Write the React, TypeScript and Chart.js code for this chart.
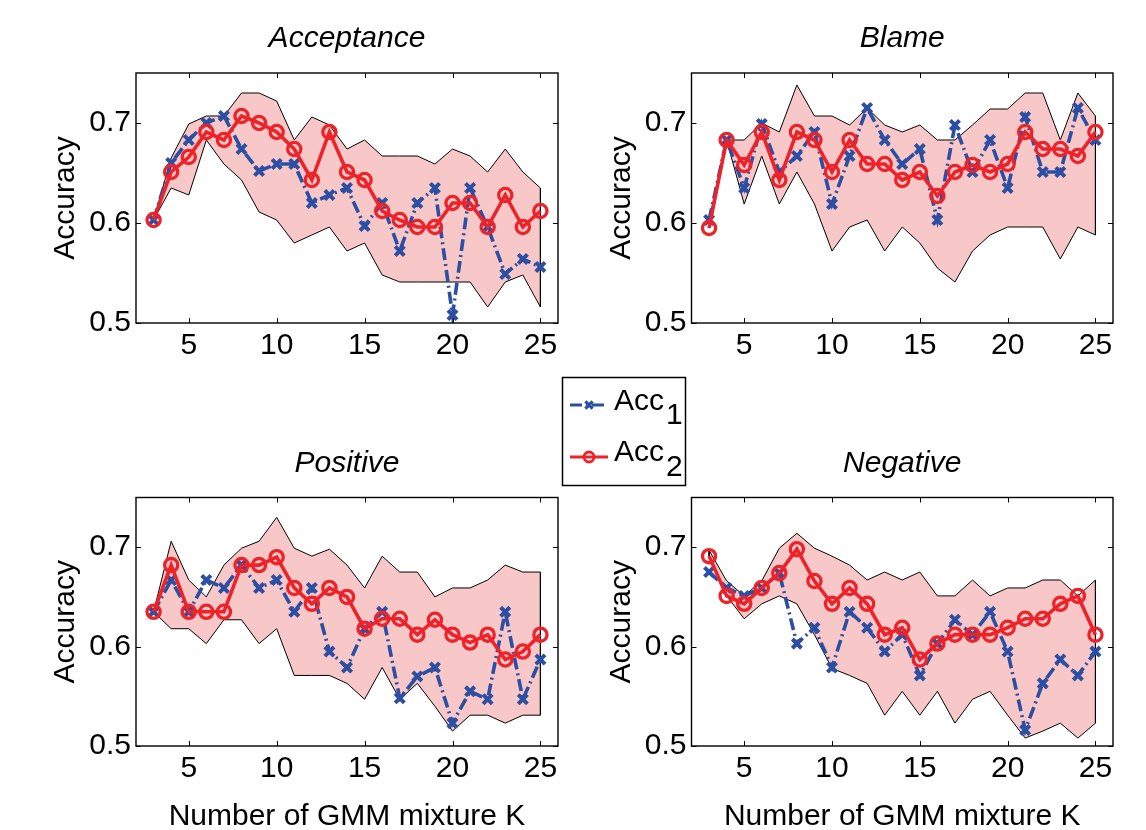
import React, { useEffect, useRef } from 'react';
import { Chart, registerables } from 'chart.js';

Chart.register(...registerables);

// ---------- data ----------
const K = [3, 4, 5, 6, 7, 8, 9, 10, 11, 12, 13, 14, 15, 16, 17, 18, 19, 20, 21, 22, 23, 24, 25];
const X_TICKS = [5, 10, 15, 20, 25];
const Y_TICKS = [0.5, 0.6, 0.7];

const acceptanceAcc2 = [0.603, 0.651, 0.666, 0.691, 0.683, 0.707, 0.700, 0.691, 0.674, 0.643, 0.691, 0.651, 0.643, 0.612, 0.603, 0.596, 0.596, 0.620, 0.620, 0.596, 0.628, 0.596, 0.612];
const acceptanceAcc1 = [0.603, 0.660, 0.683, 0.700, 0.707, 0.674, 0.652, 0.659, 0.659, 0.620, 0.628, 0.635, 0.597, 0.620, 0.572, 0.620, 0.635, 0.508, 0.635, 0.596, 0.549, 0.564, 0.556];
const acceptanceUpper = [0.603, 0.665, 0.699, 0.707, 0.707, 0.730, 0.730, 0.722, 0.683, 0.706, 0.698, 0.674, 0.683, 0.667, 0.667, 0.667, 0.659, 0.674, 0.667, 0.651, 0.674, 0.651, 0.635];
const acceptanceLower = [0.603, 0.635, 0.628, 0.683, 0.659, 0.643, 0.611, 0.603, 0.580, 0.588, 0.596, 0.572, 0.580, 0.548, 0.541, 0.541, 0.541, 0.541, 0.541, 0.516, 0.541, 0.548, 0.516];

const blameAcc2 = [0.595, 0.683, 0.658, 0.691, 0.643, 0.691, 0.683, 0.651, 0.683, 0.659, 0.659, 0.643, 0.651, 0.627, 0.651, 0.658, 0.651, 0.659, 0.691, 0.674, 0.674, 0.667, 0.691];
const blameAcc1 = [0.603, 0.683, 0.635, 0.699, 0.651, 0.667, 0.691, 0.619, 0.667, 0.715, 0.683, 0.659, 0.674, 0.603, 0.698, 0.651, 0.683, 0.635, 0.706, 0.651, 0.651, 0.715, 0.683];
const blameUpper = [0.603, 0.683, 0.683, 0.700, 0.691, 0.738, 0.707, 0.707, 0.698, 0.715, 0.698, 0.691, 0.698, 0.683, 0.683, 0.698, 0.714, 0.714, 0.730, 0.730, 0.683, 0.730, 0.707];
const blameLower = [0.595, 0.683, 0.619, 0.667, 0.619, 0.651, 0.619, 0.572, 0.596, 0.603, 0.572, 0.596, 0.580, 0.555, 0.541, 0.572, 0.588, 0.596, 0.596, 0.596, 0.564, 0.596, 0.588];

const positiveAcc2 = [0.635, 0.682, 0.635, 0.635, 0.635, 0.682, 0.682, 0.690, 0.659, 0.643, 0.659, 0.650, 0.618, 0.628, 0.628, 0.612, 0.627, 0.612, 0.604, 0.612, 0.587, 0.595, 0.612];
const positiveAcc1 = [0.635, 0.667, 0.635, 0.667, 0.659, 0.682, 0.659, 0.667, 0.635, 0.659, 0.595, 0.579, 0.618, 0.635, 0.548, 0.570, 0.579, 0.523, 0.555, 0.547, 0.635, 0.547, 0.587];
const positiveUpper = [0.635, 0.706, 0.667, 0.650, 0.682, 0.699, 0.706, 0.730, 0.699, 0.691, 0.698, 0.682, 0.659, 0.691, 0.675, 0.675, 0.650, 0.659, 0.659, 0.667, 0.682, 0.675, 0.675];
const positiveLower = [0.635, 0.618, 0.618, 0.603, 0.627, 0.627, 0.603, 0.618, 0.571, 0.571, 0.571, 0.563, 0.547, 0.579, 0.547, 0.563, 0.540, 0.515, 0.531, 0.531, 0.523, 0.531, 0.531];

const negativeAcc2 = [0.691, 0.651, 0.643, 0.659, 0.674, 0.698, 0.666, 0.643, 0.659, 0.643, 0.612, 0.619, 0.587, 0.603, 0.612, 0.612, 0.612, 0.619, 0.628, 0.628, 0.643, 0.651, 0.612];
const negativeAcc1 = [0.675, 0.659, 0.651, 0.659, 0.674, 0.603, 0.619, 0.579, 0.635, 0.619, 0.595, 0.612, 0.571, 0.603, 0.627, 0.612, 0.635, 0.595, 0.516, 0.563, 0.587, 0.571, 0.595];
const negativeUpper = [0.697, 0.666, 0.651, 0.666, 0.699, 0.714, 0.699, 0.691, 0.682, 0.667, 0.675, 0.667, 0.675, 0.651, 0.651, 0.667, 0.651, 0.659, 0.659, 0.667, 0.667, 0.651, 0.667];
const negativeLower = [0.691, 0.651, 0.628, 0.643, 0.651, 0.643, 0.612, 0.578, 0.571, 0.563, 0.531, 0.555, 0.531, 0.555, 0.523, 0.547, 0.555, 0.531, 0.508, 0.515, 0.523, 0.508, 0.523];

const TITLES = ['Acceptance', 'Blame', 'Positive', 'Negative'];
const SERIES_NAMES = ['Acc', 'Acc'];
const SERIES_SUBS = ['1', '2'];
const X_TITLE = 'Number of GMM mixture K';
const Y_TITLE = 'Accuracy';

// ---------- styles ----------
const RED = '#ee2229';
const BLUE = '#2c4fa3';
const PINK = '#f8c8c9';
const FONT = "'Liberation Sans', Arial, Helvetica, sans-serif";
const BLUE_DASH = [12, 4, 2, 4];

Chart.defaults.font.family = FONT;
Chart.defaults.color = '#000';

type Panel = {
  title: string;
  acc1: number[];
  acc2: number[];
  upper: number[];
  lower: number[];
  left: number;
  top: number;
  width: number;
  height: number;
  pad: { left: number; right: number; top: number; bottom: number };
  yWidth: number;
  xHeight: number;
  xTitle: boolean;
  legend: boolean;
};

const pts = (ys: number[]) => K.map((k, i) => ({ x: k, y: ys[i] }));

const framePlugin = {
  id: 'frame',
  afterDatasetsDraw(chart: any) {
    const { ctx, chartArea: a, scales } = chart;
    ctx.save();
    ctx.strokeStyle = '#000';
    ctx.lineWidth = 1;
    const L = 5;
    ctx.beginPath();
    scales.x.ticks.forEach((t: any) => {
      const px = Math.round(scales.x.getPixelForValue(t.value)) + 0.5;
      ctx.moveTo(px, a.bottom);
      ctx.lineTo(px, a.bottom - L);
      ctx.moveTo(px, a.top);
      ctx.lineTo(px, a.top + L);
    });
    scales.y.ticks.forEach((t: any) => {
      const py = Math.round(scales.y.getPixelForValue(t.value)) + 0.5;
      ctx.moveTo(a.left, py);
      ctx.lineTo(a.left + L, py);
      ctx.moveTo(a.right, py);
      ctx.lineTo(a.right - L, py);
    });
    ctx.stroke();
    ctx.lineWidth = 1.4;
    ctx.strokeRect(a.left, a.top, a.right - a.left, a.bottom - a.top);
    ctx.restore();
  },
};

const legendPlugin = {
  id: 'mlegend',
  afterDraw(chart: any) {
    const ctx = chart.ctx;
    const bx = 22.5, by = 7.5, bw = 123, bh = 108;
    ctx.save();
    ctx.fillStyle = '#fff';
    ctx.fillRect(bx, by, bw, bh);
    ctx.strokeStyle = '#000';
    ctx.lineWidth = 1.5;
    ctx.strokeRect(bx, by, bw, bh);
    const rows = [
      { y: 35, color: BLUE, dash: BLUE_DASH, marker: 'x', base: 40, subBase: 54, name: SERIES_NAMES[0], sub: SERIES_SUBS[0] },
      { y: 87, color: RED, dash: [] as number[], marker: 'o', base: 91, subBase: 106, name: SERIES_NAMES[1], sub: SERIES_SUBS[1] },
    ];
    rows.forEach((r) => {
      ctx.strokeStyle = r.color;
      ctx.lineWidth = 3;
      ctx.setLineDash(r.dash);
      ctx.beginPath();
      ctx.moveTo(30, r.y);
      ctx.lineTo(68, r.y);
      ctx.stroke();
      ctx.setLineDash([]);
      ctx.beginPath();
      if (r.marker === 'x') {
        ctx.lineWidth = 3.2;
        const d = 3.6;
        ctx.moveTo(49 - d, r.y - d);
        ctx.lineTo(49 + d, r.y + d);
        ctx.moveTo(49 - d, r.y + d);
        ctx.lineTo(49 + d, r.y - d);
      } else {
        ctx.lineWidth = 2.8;
        ctx.arc(49, r.y, 5, 0, Math.PI * 2);
      }
      ctx.stroke();
      ctx.fillStyle = '#000';
      ctx.textAlign = 'left';
      ctx.textBaseline = 'alphabetic';
      ctx.font = `30px ${FONT}`;
      ctx.fillText(r.name, 74, r.base);
      const w = ctx.measureText(r.name).width;
      ctx.fillText(r.sub, 74 + w + 2, r.subBase);
    });
    ctx.restore();
  },
};

function PanelChart({ p }: { p: Panel }) {
  const ref = useRef<HTMLCanvasElement | null>(null);
  useEffect(() => {
    if (!ref.current) return;
    const n = p.upper.length - 1;
    const edge = (i: number) => ({
      label: 'edge' + i,
      data: [
        { x: K[i], y: p.upper[i] },
        { x: K[i], y: p.lower[i] },
      ],
      borderColor: '#000',
      borderWidth: 1,
      pointRadius: 0,
      fill: false,
    });
    const chart = new Chart(ref.current, {
      type: 'line',
      data: {
        datasets: [
          {
            label: 'Acc2',
            data: pts(p.acc2),
            borderColor: RED,
            borderWidth: 3.6,
            pointStyle: 'circle',
            pointRadius: 6.6,
            pointBorderWidth: 3.3,
            pointBorderColor: RED,
            pointBackgroundColor: 'rgba(0,0,0,0)',
            fill: false,
            tension: 0,
          },
          {
            label: 'Acc1',
            data: pts(p.acc1),
            borderColor: BLUE,
            borderWidth: 3.6,
            borderDash: BLUE_DASH,
            pointStyle: 'crossRot',
            pointRadius: 6.5,
            pointBorderWidth: 4,
            pointBorderColor: BLUE,
            pointBackgroundColor: BLUE,
            fill: false,
            tension: 0,
          },
          {
            label: 'upper',
            data: pts(p.upper),
            borderColor: '#000',
            borderWidth: 1,
            pointRadius: 0,
            backgroundColor: PINK,
            fill: '+1',
            tension: 0,
          },
          {
            label: 'lower',
            data: pts(p.lower),
            borderColor: '#000',
            borderWidth: 1,
            pointRadius: 0,
            fill: false,
            tension: 0,
          },
          edge(0),
          edge(n),
        ] as any,
      },
      options: {
        responsive: false,
        animation: false,
        events: [],
        layout: { padding: p.pad },
        plugins: {
          legend: { display: false },
          tooltip: { enabled: false },
          filler: { drawTime: 'beforeDatasetsDraw' },
          title: {
            display: true,
            text: p.title,
            fullSize: false,
            color: '#000',
            font: { size: 30, style: 'italic', weight: 'normal', lineHeight: 1.2 },
            padding: { top: 0, bottom: 16 },
          },
        } as any,
        scales: {
          x: {
            type: 'linear',
            min: 2,
            max: 26,
            grid: { display: false, drawTicks: false },
            border: { display: false },
            afterBuildTicks: (s: any) => {
              s.ticks = X_TICKS.map((v) => ({ value: v }));
            },
            afterFit: (s: any) => {
              s.height = p.xHeight;
            },
            ticks: {
              color: '#000',
              font: { size: 30, lineHeight: 1.2 },
              maxRotation: 0,
              autoSkip: false,
              padding: 5,
              callback: (v: any) => String(v),
            },
            title: {
              display: p.xTitle,
              text: X_TITLE,
              color: '#000',
              font: { size: 30, lineHeight: 1.2 },
              padding: { top: 0, bottom: 5.4 },
            },
          },
          y: {
            type: 'linear',
            min: 0.5,
            max: 0.75,
            grid: { display: false, drawTicks: false },
            border: { display: false },
            afterBuildTicks: (s: any) => {
              s.ticks = Y_TICKS.map((v) => ({ value: v }));
            },
            afterFit: (s: any) => {
              s.width = p.yWidth;
            },
            ticks: {
              color: '#000',
              font: { size: 30, lineHeight: 1.2 },
              padding: 5,
              callback: (v: any) => Number(v).toFixed(1),
            },
            title: {
              display: true,
              text: Y_TITLE,
              color: '#000',
              font: { size: 30, lineHeight: 1.2 },
              padding: { top: 0, bottom: 0 },
            },
          },
        },
      } as any,
      plugins: p.legend ? [framePlugin, legendPlugin] : [framePlugin],
    });
    return () => chart.destroy();
  }, [p]);
  return (
    <canvas
      ref={ref}
      width={p.width}
      height={p.height}
      style={{ position: 'absolute', left: p.left, top: p.top, width: p.width, height: p.height, display: 'block' }}
    />
  );
}

const PANELS: Panel[] = [
  {
    title: TITLES[0], acc1: acceptanceAcc1, acc2: acceptanceAcc2, upper: acceptanceUpper, lower: acceptanceLower,
    left: 0, top: 0, width: 573, height: 370,
    pad: { left: 48, right: 15, top: 21, bottom: 0 }, yWidth: 88, xHeight: 47, xTitle: false, legend: false,
  },
  {
    title: TITLES[1], acc1: blameAcc1, acc2: blameAcc2, upper: blameUpper, lower: blameLower,
    left: 573, top: 0, width: 573, height: 370,
    pad: { left: 30.5, right: 33, top: 21, bottom: 0 }, yWidth: 88, xHeight: 47, xTitle: false, legend: false,
  },
  {
    title: TITLES[2], acc1: positiveAcc1, acc2: positiveAcc2, upper: positiveUpper, lower: positiveLower,
    left: 0, top: 370, width: 573, height: 470,
    pad: { left: 48, right: 15, top: 75.5, bottom: 0 }, yWidth: 88, xHeight: 94, xTitle: true, legend: false,
  },
  {
    title: TITLES[3], acc1: negativeAcc1, acc2: negativeAcc2, upper: negativeUpper, lower: negativeLower,
    left: 540, top: 370, width: 606, height: 470,
    pad: { left: 63.5, right: 33, top: 75.5, bottom: 0 }, yWidth: 88, xHeight: 94, xTitle: true, legend: true,
  },
];

export default function App() {
  return (
    <div style={{ position: 'absolute', left: 0, top: 0, width: 1146, height: 830, overflow: 'hidden', background: '#fff' }}>
      {PANELS.map((p, i) => (
        <PanelChart key={i} p={p} />
      ))}
    </div>
  );
}
